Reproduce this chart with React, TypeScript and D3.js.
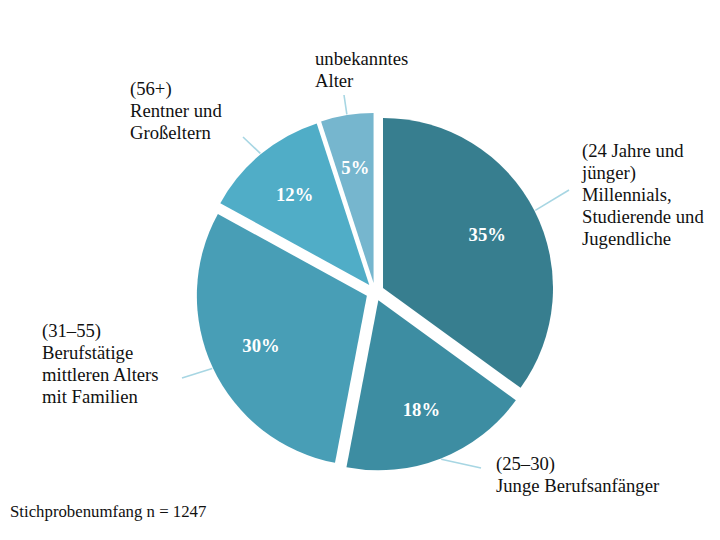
import React from "react";
import * as d3 from "d3";

const categories = [
  ["(24 Jahre und", "jünger)", "Millennials,", "Studierende und", "Jugendliche"],
  ["(25–30)", "Junge Berufsanfänger"],
  ["(31–55)", "Berufstätige", "mittleren Alters", "mit Familien"],
  ["(56+)", "Rentner und", "Großeltern"],
  ["unbekanntes", "Alter"],
];
const values = [35, 18, 30, 12, 5];
const valueLabels = ["35%", "18%", "30%", "12%", "5%"];
const footnote = "Stichprobenumfang n = 1247";

const colors = ["#377E8F", "#3D8DA2", "#489EB6", "#50ADC7", "#76B6CE"];
// label layout: left x, first baseline y, leader end point
const labelLayout = [
  { x: 582, y: 157, lx: 569, ly: 190 },
  { x: 496, y: 470, lx: 481, ly: 468 },
  { x: 42, y: 337, lx: 182, ly: 378 },
  { x: 130, y: 95, lx: 243, ly: 137 },
  { x: 315, y: 65, lx: 344, ly: 95 },
];

const W = 720;
const H = 540;
const CX = 375;
const CY = 292;
const R = 170;
const EXPLODE = 9;
const FONT = "'Liberation Serif', 'Times New Roman', serif";
const FS = 18.67;
const LH = 22;

export default function App() {
  const pie = d3.pie<number>().sort(null).value((d) => d).startAngle(0).endAngle(2 * Math.PI);
  const arcs = pie(values);
  const arc = d3.arc<d3.PieArcDatum<number>>().innerRadius(0).outerRadius(R);
  const labelArc = d3.arc<d3.PieArcDatum<number>>().innerRadius(117).outerRadius(117);

  return (
    <svg width={W} height={H} style={{ position: "absolute", left: 0, top: 0, background: "#fff" }}>
      <g transform={`translate(${CX},${CY})`}>
        {arcs.map((a, i) => {
          const mid = (a.startAngle + a.endAngle) / 2;
          const ox = EXPLODE * Math.sin(mid);
          const oy = -EXPLODE * Math.cos(mid);
          const [tx, ty] = labelArc.centroid(a);
          const sx = ox + (R + EXPLODE * 0.1) * Math.sin(mid);
          const sy = oy - (R + EXPLODE * 0.1) * Math.cos(mid);
          const L = labelLayout[i];
          return (
            <g key={i}>
              <line
                x1={sx}
                y1={sy}
                x2={L.lx - CX}
                y2={L.ly - CY}
                stroke="#A7D6E3"
                strokeWidth={1.6}
              />
              <g transform={`translate(${ox},${oy})`}>
                <path d={arc(a) || ""} fill={colors[i]} />
                <text
                  x={tx}
                  y={ty}
                  textAnchor="middle"
                  dominantBaseline="central"
                  fill="#fff"
                  fontFamily={FONT}
                  fontWeight="bold"
                  fontSize={FS}
                >
                  {valueLabels[i]}
                </text>
              </g>
            </g>
          );
        })}
      </g>
      {categories.map((lines, i) => (
        <text key={i} fontFamily={FONT} fontSize={FS} fill="#111">
          {lines.map((t, j) => (
            <tspan key={j} x={labelLayout[i].x} y={labelLayout[i].y + j * LH}>
              {t}
            </tspan>
          ))}
        </text>
      ))}
      <text x={10} y={517} fontFamily={FONT} fontSize={16.8} fill="#111">
        {footnote}
      </text>
    </svg>
  );
}
